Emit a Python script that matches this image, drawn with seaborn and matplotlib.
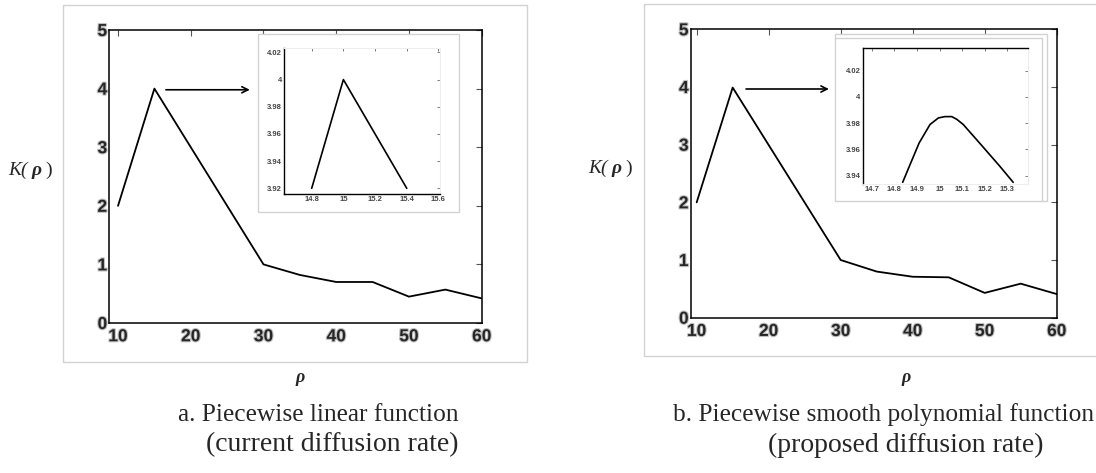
import matplotlib
matplotlib.use('Agg')
import matplotlib.pyplot as plt
import matplotlib.patheffects as pe
from matplotlib.patches import Rectangle
from matplotlib.lines import Line2D
import seaborn as sns

# main curves K(rho)
RHO = [10, 15, 30, 35, 40, 45, 50, 55, 60]
K_LINEAR = [2.0, 4.0, 1.0, 0.82, 0.70, 0.70, 0.45, 0.57, 0.42]
K_SMOOTH = [2.0, 3.99, 1.0, 0.80, 0.71, 0.70, 0.43, 0.59, 0.41]

# zoomed views around the peak
ZOOM_RHO_LINEAR = [14.8, 15.0, 15.4]
ZOOM_K_LINEAR = [3.92, 4.0, 3.92]
ZOOM_RHO_SMOOTH = [14.837, 14.866, 14.91, 14.958, 14.995, 15.024, 15.054,
                   15.076, 15.105, 15.187, 15.268, 15.326]
ZOOM_K_SMOOTH = [3.935, 3.947, 3.965, 3.979, 3.984, 3.985, 3.985,
                 3.983, 3.979, 3.963, 3.947, 3.935]

MAIN_XTICKS = [10, 20, 30, 40, 50, 60]
MAIN_YTICKS = [0, 1, 2, 3, 4, 5]
ZOOM_XTICKS_LINEAR = [14.8, 15.0, 15.2, 15.4, 15.6]
ZOOM_XLABELS_LINEAR = ['14.8', '15', '15.2', '15.4', '15.6']
ZOOM_YTICKS_LINEAR = [3.92, 3.94, 3.96, 3.98, 4.0, 4.02]
ZOOM_YLABELS_LINEAR = ['3.92', '3.94', '3.96', '3.98', '4', '4.02']
ZOOM_XTICKS_SMOOTH = [14.7, 14.8, 14.9, 15.0, 15.1, 15.2, 15.3]
ZOOM_XLABELS_SMOOTH = ['14.7', '14.8', '14.9', '15', '15.1', '15.2', '15.3']
ZOOM_YTICKS_SMOOTH = [3.94, 3.96, 3.98, 4.0, 4.02]
ZOOM_YLABELS_SMOOTH = ['3.94', '3.96', '3.98', '4', '4.02']

CAPTION_A = ['a. Piecewise linear function', '(current diffusion rate)']
CAPTION_B = ['b. Piecewise smooth polynomial function', '(proposed diffusion rate)']

W, H = 1096, 473

sns.set_theme(style='white')
plt.rcParams['font.family'] = ['Liberation Sans', 'DejaVu Sans']

fig = plt.figure(figsize=(W / 100, H / 100), dpi=100)


def box(x0, y0, x1, y1):
    # pixel box (top-left origin) -> figure fraction [l, b, w, h]
    return [x0 / W, 1 - y1 / H, (x1 - x0) / W, (y1 - y0) / H]


def frame(x0, y0, x1, y1, zorder, face='none'):
    l, b, w, h = box(x0, y0, x1, y1)
    fig.add_artist(Rectangle((l, b), w, h, transform=fig.transFigure,
                             facecolor=face, edgecolor='#d2d2d2', lw=1.0, zorder=zorder))


def fig_line(xs, ys):
    fig.add_artist(Line2D([x / W for x in xs], [1 - y / H for y in ys],
                          transform=fig.transFigure, color='#d2d2d2', lw=1.0, zorder=1.5))


halo = [pe.withStroke(linewidth=1.6, foreground='#c0c0c0')]


def main_panel(rect, xlim, rho, k, arrow):
    ax = fig.add_axes(box(*rect))
    ax.set_zorder(0)
    sns.lineplot(x=rho, y=k, ax=ax, color='black', lw=1.3)
    ax.set_xlim(*xlim)
    ax.set_ylim(0, 5)
    ax.set_xticks(MAIN_XTICKS)
    ax.set_yticks(MAIN_YTICKS)
    ax.set_xticklabels([str(t) for t in MAIN_XTICKS], fontweight='bold', fontsize=12.5,
                       path_effects=halo)
    ax.set_yticklabels([str(t) for t in MAIN_YTICKS], fontweight='bold', fontsize=12.5,
                       path_effects=halo)
    ax.tick_params(direction='in', length=4, width=0.8, color='#555555',
                   top=True, right=True)
    ax.tick_params(axis='x', pad=4.5)
    ax.tick_params(axis='y', pad=1.5)
    for s in ax.spines.values():
        s.set_color('black')
        s.set_linewidth(1.1)
    ax.set_xlabel('')
    ax.set_ylabel('')
    ax.annotate('', xy=(arrow[2], arrow[1]), xytext=(arrow[0], arrow[1]),
                arrowprops=dict(arrowstyle='->', color='black', lw=1.2, mutation_scale=11))
    return ax


def zoom_panel(rect, xlim, ylim, rho, k, xt, xl, yt, yl, dark, light):
    ax = fig.add_axes(box(*rect))
    ax.set_zorder(2)
    ax.patch.set_alpha(0)
    sns.lineplot(x=rho, y=k, ax=ax, color='black', lw=1.2)
    ax.set_xlim(*xlim)
    ax.set_ylim(*ylim)
    ax.set_xticks(xt)
    ax.set_xticklabels(xl, fontsize=5.5, color='#444444', fontweight='bold')
    ax.set_yticks(yt)
    ax.set_yticklabels(yl, fontsize=5.5, color='#444444', fontweight='bold')
    ax.tick_params(direction='in', length=2, width=0.6, color='#666666',
                   top=True, right=True, pad=1.5)
    for name in dark:
        ax.spines[name].set_color('black')
        ax.spines[name].set_linewidth(1.0)
    for name in light:
        ax.spines[name].set_color('#eeeeee')
        ax.spines[name].set_linewidth(0.8)
    ax.set_xlabel('')
    ax.set_ylabel('')
    return ax


# panel a
frame(62.7, 5, 527, 362.3, zorder=-1)
main_panel((109.3, 30, 481.7, 323), (8.8, 60), RHO, K_LINEAR, (16.2, 3.98, 28.5))
frame(258.3, 34, 459.3, 211.7, zorder=1, face='white')
zoom_panel((284.3, 48.3, 440, 194), (14.627, 15.61), (3.9158, 4.023),
           ZOOM_RHO_LINEAR, ZOOM_K_LINEAR,
           ZOOM_XTICKS_LINEAR, ZOOM_XLABELS_LINEAR, ZOOM_YTICKS_LINEAR, ZOOM_YLABELS_LINEAR,
           dark=['left', 'bottom'], light=['top', 'right'])

# panel b
frame(644.3, 4, 1110, 356.2, zorder=-1)
main_panel((690.7, 29.3, 1056.7, 317.7), (9.17, 60), RHO, K_SMOOTH, (16.47, 3.965, 28.75))
frame(835, 34, 1046.7, 200.7, zorder=1, face='white')
fig_line([835, 1042], [38, 38])
fig_line([1042, 1042], [38, 200.7])
zoom_panel((862.7, 48.3, 1028.3, 184), (14.66, 15.393), (3.9337, 4.037),
           ZOOM_RHO_SMOOTH, ZOOM_K_SMOOTH,
           ZOOM_XTICKS_SMOOTH, ZOOM_XLABELS_SMOOTH, ZOOM_YTICKS_SMOOTH, ZOOM_YLABELS_SMOOTH,
           dark=['left', 'top'], light=['bottom', 'right'])

# axis labels: K( rho ) with italic K and bold rho
serif = ['Liberation Serif', 'DejaVu Serif']
for cx, cy in [(34, 170), (614, 168)]:
    fig.text((cx - 6) / W, 1 - cy / H, 'K(', family=serif, style='italic',
             fontsize=14, ha='right', va='center')
    fig.text((cx + 2) / W, 1 - cy / H, 'ρ', family=serif, style='italic', weight='bold',
             fontsize=14, ha='center', va='center')
    fig.text((cx + 11) / W, 1 - cy / H, ')', family=serif,
             fontsize=14, ha='left', va='center')
for cx in [300, 906]:
    fig.text(cx / W, 1 - 378 / H, 'ρ', family=serif, style='italic', weight='bold',
             fontsize=13, ha='center', va='center')

# captions (the second panel's first line runs past the right edge, as in the source)
fig.text(178 / W, 1 - 415 / H, CAPTION_A[0], family=serif, fontsize=18.3, ha='left', va='center')
fig.text(332 / W, 1 - 445 / H, CAPTION_A[1], family=serif, fontsize=20, ha='center', va='center')
fig.text(673 / W, 1 - 415 / H, CAPTION_B[0], family=serif, fontsize=18.3, ha='left', va='center')
fig.text(906 / W, 1 - 445 / H, CAPTION_B[1], family=serif, fontsize=20, ha='center', va='center')

fig.savefig('out.png', dpi=100)
